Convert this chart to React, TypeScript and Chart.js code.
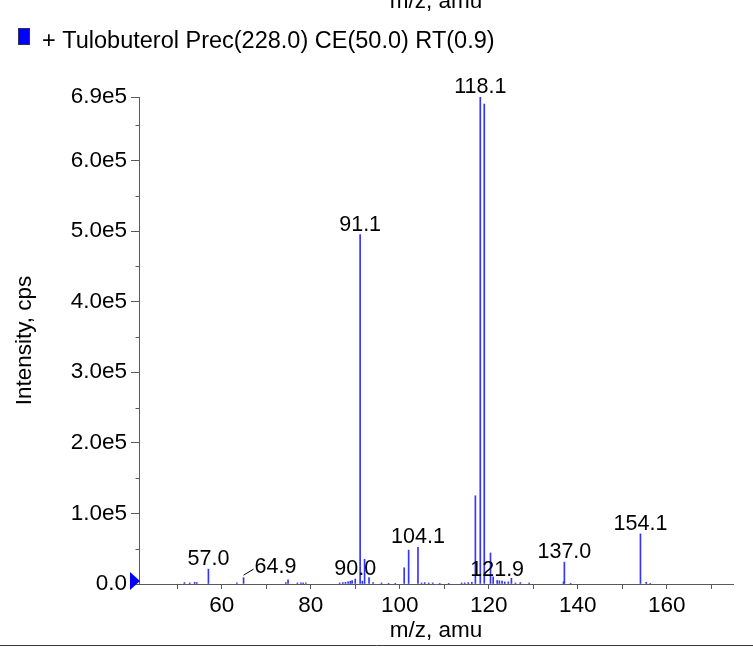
import React, { useEffect, useRef } from 'react';
import { Chart, registerables } from 'chart.js';

Chart.register(...registerables);

// ---- data ----
const mzValues = [
  51.6, 52.8, 53.9, 54.4, 57.0, 63.4, 64.9, 74.4, 74.9, 77.0, 77.8, 78.3, 78.9,
  86.5, 87.2, 87.8, 88.4, 88.9, 89.3, 90.0, 91.1, 91.6, 92.1, 93.1, 94.0, 95.9,
  97.5, 99.0, 101.0, 102.0, 104.1, 104.9, 105.6, 106.5, 107.4, 109.0, 111.0,
  113.9, 114.6, 115.4, 116.2, 117.0, 118.1, 119.0, 120.4, 121.0, 121.9, 122.4,
  123.0, 123.6, 124.4, 125.1, 126.0, 127.1, 129.1, 136.8, 137.0, 138.4, 154.1,
  155.4, 156.3,
];
const intensities = [
  2000, 1500, 2500, 2000, 21000, 1500, 9000, 2000, 6000, 1500, 1500, 1500, 1500,
  1500, 2000, 2500, 3000, 4000, 5000, 7000, 495000, 4000, 35000, 9000, 2000, 1500,
  1000, 1000, 23000, 48000, 52000, 1500, 2000, 1500, 1500, 1000, 1000,
  1500, 1500, 2000, 2500, 125000, 690000, 680000, 44000, 10000, 5000, 4500,
  4000, 3000, 3000, 8000, 1500, 2000, 1500, 3000, 31000, 1000, 71000,
  2500, 1000,
];
const labeledPeaks = [57.0, 64.9, 90.0, 91.1, 104.1, 118.1, 121.9, 137.0, 154.1];
const leaderPeaks = [64.9];
const xTicks = [50, 60, 70, 80, 90, 100, 110, 120, 130, 140, 150, 160, 170];
const yTicks = [0, 100000, 200000, 300000, 400000, 500000, 600000, 690000];
const yMinorTicks = [50000, 150000, 250000, 350000, 450000, 550000, 650000];
const xRange = [41.4, 174.9];
const yRange = [0, 690000];
const seriesLabel = '+ Tulobuterol Prec(228.0) CE(50.0) RT(0.9)';
const xTitle = 'm/z, amu';
const yTitle = 'Intensity, cps';

// ---- style ----
const FONT = '"Liberation Sans", Arial, Helvetica, sans-serif';
const AXIS = '#5a5a5a';
const STICK = '#3434ff';

const annotatePlugin = {
  id: 'annotate',
  afterDraw(chart: any) {
    const { ctx, chartArea } = chart;
    const x = chart.scales.x;
    const y = chart.scales.y;
    ctx.save();

    // minor y ticks
    ctx.strokeStyle = AXIS;
    ctx.lineWidth = 1;
    for (const v of yMinorTicks) {
      const py = Math.round(y.getPixelForValue(v)) + 0.5;
      ctx.beginPath();
      ctx.moveTo(chartArea.left - 3.5, py);
      ctx.lineTo(chartArea.left, py);
      ctx.stroke();
    }

    // peak labels
    ctx.font = `21.5px ${FONT}`;
    ctx.fillStyle = '#000';
    ctx.textBaseline = 'alphabetic';
    for (const m of labeledPeaks) {
      let idx = 0;
      let best = Infinity;
      mzValues.forEach((v, i) => {
        const d = Math.abs(v - m);
        if (d < best) { best = d; idx = i; }
      });
      const px = x.getPixelForValue(m);
      const top = y.getPixelForValue(intensities[idx]);
      const text = m.toFixed(1);
      if (leaderPeaks.includes(m)) {
        ctx.strokeStyle = '#000';
        ctx.lineWidth = 1;
        ctx.beginPath();
        ctx.moveTo(px, top - 2.5);
        ctx.lineTo(px + 10, top - 8.5);
        ctx.stroke();
        ctx.textAlign = 'left';
        ctx.fillText(text, px + 11, top - 4.5);
      } else {
        ctx.textAlign = 'center';
        ctx.fillText(text, px, top - 4);
      }
    }

    // zero marker triangle
    const y0 = y.getPixelForValue(0);
    ctx.fillStyle = '#0000ff';
    ctx.beginPath();
    ctx.moveTo(chartArea.left - 9, y0 - 12);
    ctx.lineTo(chartArea.left - 9, y0 + 6);
    ctx.lineTo(chartArea.left + 1, y0 - 3);
    ctx.closePath();
    ctx.fill();

    // legend
    ctx.fillStyle = '#0000ff';
    ctx.fillRect(18, 28, 12, 17);
    ctx.strokeStyle = '#303060';
    ctx.strokeRect(18.5, 28.5, 11, 16);
    ctx.fillStyle = '#000';
    ctx.font = `23.5px ${FONT}`;
    ctx.textAlign = 'left';
    ctx.fillText(chart.data.datasets[0].label, 42, 48);

    // clipped axis title of the panel above
    ctx.font = `22.5px ${FONT}`;
    ctx.textAlign = 'center';
    ctx.fillText(xTitle, (chartArea.left + chartArea.right) / 2, 8);

    // bottom separator rule
    ctx.strokeStyle = '#3a3a3a';
    ctx.lineWidth = 1;
    ctx.beginPath();
    ctx.moveTo(0, 645.5);
    ctx.lineTo(chart.width, 645.5);
    ctx.stroke();

    ctx.restore();
  },
};

export default function App() {
  const canvasRef = useRef<HTMLCanvasElement | null>(null);

  useEffect(() => {
    if (!canvasRef.current) return;
    const chart = new Chart(canvasRef.current, {
      type: 'bar',
      data: {
        datasets: [
          {
            label: seriesLabel,
            data: mzValues.map((m, i) => ({ x: m, y: intensities[i] })),
            backgroundColor: STICK,
            borderWidth: 0,
            barThickness: 1,
          } as any,
        ],
      },
      options: {
        animation: false,
        responsive: true,
        maintainAspectRatio: false,
        layout: { padding: { top: 97, right: 20, left: 0, bottom: 0 } },
        plugins: {
          legend: { display: false },
          tooltip: { enabled: false },
        },
        scales: {
          x: {
            type: 'linear',
            min: xRange[0],
            max: xRange[1],
            offset: false,
            afterBuildTicks: (s: any) => {
              s.ticks = xTicks.map((v) => ({ value: v }));
            },
            afterFit: (s: any) => {
              s.height = 67;
            },
            grid: {
              display: true,
              drawOnChartArea: false,
              offset: false,
              tickLength: 5,
              color: AXIS,
            },
            border: { display: true, color: AXIS, width: 1 },
            ticks: {
              autoSkip: false,
              maxRotation: 0,
              padding: 3,
              color: '#000',
              font: { family: FONT, size: 22.5 },
              callback: (v: any) => (Number(v) % 20 === 0 ? String(v) : ''),
            },
            title: {
              display: true,
              text: xTitle,
              color: '#000',
              font: { family: FONT, size: 22.5 },
              padding: { top: 0, bottom: 7 },
            },
          },
          y: {
            type: 'linear',
            min: yRange[0],
            max: yRange[1],
            afterBuildTicks: (s: any) => {
              s.ticks = yTicks.map((v) => ({ value: v }));
            },
            afterFit: (s: any) => {
              s.width = 139;
            },
            grid: {
              display: true,
              drawOnChartArea: false,
              tickLength: 8,
              color: AXIS,
            },
            border: { display: true, color: AXIS, width: 1 },
            ticks: {
              autoSkip: false,
              padding: 4,
              color: '#000',
              font: { family: FONT, size: 22.5 },
              callback: (v: any) => (Number(v) === 0 ? '0.0' : (Number(v) / 1e5).toFixed(1) + 'e5'),
            },
            title: {
              display: true,
              text: yTitle,
              color: '#000',
              font: { family: FONT, size: 22.5 },
              padding: { top: 11, bottom: 0 },
            },
          },
        },
      },
      plugins: [annotatePlugin],
    });
    return () => chart.destroy();
  }, []);

  return (
    <div style={{ position: 'absolute', left: 0, top: 0, width: 753, height: 651, background: '#fff' }}>
      <canvas ref={canvasRef} />
    </div>
  );
}
